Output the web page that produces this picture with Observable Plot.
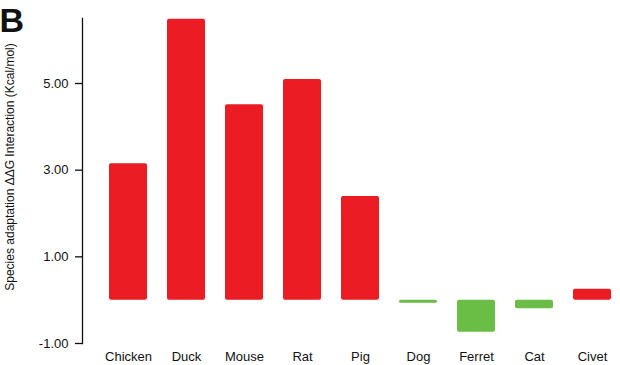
<!DOCTYPE html>
<html>
<head>
<meta charset="utf-8">
<script src="https://cdn.jsdelivr.net/npm/d3@7"></script>
<script src="https://cdn.jsdelivr.net/npm/@observablehq/plot@0.6"></script>
<style>
  html, body { margin: 0; padding: 0; background: #fff; }
  #wrap { width: 620px; height: 365px; }
</style>
</head>
<body>
<div id="wrap"></div>
<script>
const species = ["Chicken", "Duck", "Mouse", "Rat", "Pig", "Dog", "Ferret", "Cat", "Civet"];
const ddg = [3.15, 6.48, 4.51, 5.09, 2.39, -0.07, -0.74, -0.2, 0.25];
const yTicks = [-1, 1, 3, 5];
const yLabel = "Species adaptation \u0394\u0394G Interaction (Kcal/mol)";
const panelLabel = "B";

const data = species.map((s, i) => ({species: s, value: ddg[i]}));

const chart = Plot.plot({
  width: 620,
  height: 365,
  marginLeft: 82,
  marginRight: 0,
  marginTop: 18,
  marginBottom: 22,
  style: {fontFamily: "Liberation Sans, Arial, sans-serif", fontSize: "13px", color: "#111", background: "transparent"},
  x: {domain: species, paddingInner: 0.353, paddingOuter: 0.255, align: 0.733, label: null},
  y: {domain: [-1, 6.5], label: null},
  marks: [
    Plot.barY(data, {x: "species", y: "value", fill: d => d.value >= 0 ? "#ec1c24" : "#6abd45", rx: 2}),
    Plot.frame({anchor: "left", stroke: "#111", strokeWidth: 1.3}),
    Plot.axisY({ticks: yTicks, tickFormat: d => d.toFixed(2), tickSize: 7, tickPadding: 7, fontSize: 13, label: null, strokeWidth: 1.3}),
    Plot.axisX({tickSize: 0, tickPadding: 8, fontSize: 13, label: null}),
    Plot.text([yLabel], {frameAnchor: "left", text: d => d, rotate: -90, textAnchor: "middle", dx: -72, dy: -14, fontSize: 12, fill: "#111"}),
    Plot.text([panelLabel], {frameAnchor: "top-left", text: d => d, textAnchor: "start", lineAnchor: "top", dx: -83, dy: -11, fontSize: 34, fontWeight: "bold", fill: "#111"})
  ]
});
document.getElementById("wrap").append(chart);
</script>
</body>
</html>
